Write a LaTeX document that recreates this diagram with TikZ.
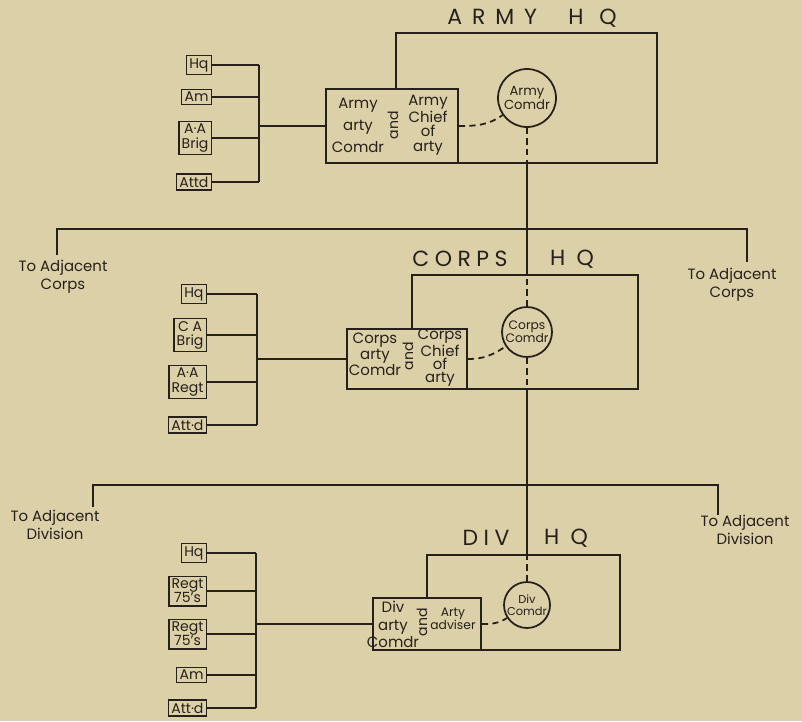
\documentclass[tikz,border=0pt]{standalone}
\usepackage{fontspec}
\setmainfont{Poppins}
\newfontfamily\titlefont[LetterSpace=25]{Poppins}
\newfontfamily\widetitlefont[LetterSpace=45]{Poppins}
\usetikzlibrary{positioning, calc}

\definecolor{paper}{RGB}{220,208,168}
\definecolor{ink}{RGB}{38,32,26}

\tikzset{
  hqtitle/.style={inner sep=0pt, font=\titlefont\fontsize{12.5}{14}\selectfont},
  hqbox/.style={draw=ink, line width=1pt},
  artbox/.style={draw=ink, fill=paper, line width=1pt},
  coltext/.style={align=center, inner sep=0pt, font=\fontsize{8.5}{#1}\selectfont},
  andtext/.style={rotate=90, inner sep=0pt, font=\fontsize{8}{8}\selectfont},
  cmdr/.style={circle, draw=ink, fill=paper, line width=1pt, inner sep=0pt, align=center},
  unitbox/.style={draw=ink, fill=paper, line width=0.8pt, inner sep=1.6pt, align=center, font=\fontsize{8}{8}\selectfont},
  adjtext/.style={align=center, inner sep=0pt, font=\fontsize{8.5}{10}\selectfont},
  bar/.style={line width=1.5pt},
  link/.style={dash pattern=on 3.5pt off 2.5pt}
}

\begin{document}
\begin{tikzpicture}[x=0.02cm, y=-0.02cm, ink, line width=1pt]
\fill[paper] (0,0) rectangle (802,721);

% Army HQ
\node[hqtitle, font=\widetitlefont\fontsize{12.5}{14}\selectfont] (armyt) at (532,18) {ARMY~~H Q};
\node[hqbox, minimum width=5.22cm, minimum height=2.6cm] (armybox) at (526.5,98) {};
\node[artbox, minimum width=2.64cm, minimum height=1.48cm] (armyart) at (392,126) {};
\node[coltext=12.5] at (358,125) {Army\\arty\\Comdr};
\node[andtext] at (393,125) {and};
\node[coltext=8.2] at (428,125) {Army\\Chief\\of\\arty};
\node[cmdr, minimum size=1.16cm, font=\fontsize{7.5}{8}\selectfont] (armycom) at (527,98) {Army\\Comdr};

\coordinate (abus) at (259,0);
\foreach \name/\y/\txt in {ahq/65/Hq, aam/97/Am, aaa/138/{A·A\\Brig}, aatt/182/Attd} {
   \node[unitbox, anchor=east] (\name) at (212,\y) {\txt};
   \draw (\name.east) -- (\name.east -| abus);
}
\draw (ahq.east -| abus) -- (aatt.east -| abus);
\draw (armyart.west -| abus) -- (armyart.west);

\draw[link] (armyart.east) to[out=0, in=215] (armycom.215);
\draw[link] (armycom.south) -- (armycom.south |- armybox.south);

% bar to adjacent corps
\coordinate (cbar) at (527,229);
\coordinate (cbarl) at (57,255);
\coordinate (cbarr) at (747,262);
\draw[bar] (cbarl) |- (cbar) -| (cbarr);
\node[adjtext] (adjcl) at (63,277) {To Adjacent\\Corps};
\node[adjtext] (adjcr) at (732,285) {To Adjacent\\Corps};

% Corps HQ
\node[hqtitle] (corpst) at (460,259) {CORPS};
\node[hqtitle] (corpsh) at (572,259) {H Q};
\node[hqbox, minimum width=4.52cm, minimum height=2.28cm] (corpsbox) at (525,332) {};
\node[artbox, minimum width=2.4cm, minimum height=1.2cm] (corpsart) at (407,359) {};
\node[coltext=9] at (375,354) {Corps\\arty\\Comdr};
\node[andtext] at (408,356) {and};
\node[coltext=7.4] at (440,357.5) {Corps\\Chief\\of\\arty};
\node[cmdr, minimum size=1cm, font=\fontsize{7}{7.5}\selectfont] (corpscom) at (527,332) {Corps\\Comdr};

\draw[bar] (armycom.south |- armybox.south) -- (armycom.south |- corpsbox.north);

\coordinate (cbus) at (257,0);
\foreach \name/\y/\txt in {chq/294/Hq, cca/335/{C A\\Brig}, caa/382/{A·A\\Regt}, catt/425/Att·d} {
   \node[unitbox, anchor=east] (\name) at (207,\y) {\txt};
   \draw (\name.east) -- (\name.east -| cbus);
}
\draw (chq.east -| cbus) -- (catt.east -| cbus);
\draw (corpsart.west -| cbus) -- (corpsart.west);

\draw[link] (corpsart.east) to[out=0, in=214] (corpscom.214);
\draw[link] (corpscom.north) -- (corpscom.north |- corpsbox.north);
\draw[link] (corpscom.south) -- (corpscom.south |- corpsbox.south);

% bar to adjacent division
\coordinate (dbar) at (527,485);
\coordinate (dbarl) at (93,507);
\coordinate (dbarr) at (718,515);
\draw[bar] (dbarl) |- (dbar) -| (dbarr);
\node[adjtext] (adjdl) at (55,525) {To Adjacent\\Division};
\node[adjtext] (adjdr) at (745,530) {To Adjacent\\Division};

% Div HQ
\node[hqtitle] (divt) at (486,538) {DIV};
\node[hqtitle] (divh) at (566,538) {H Q};
\node[hqbox, minimum width=3.86cm, minimum height=1.9cm] (divbox) at (523.5,602.5) {};
\node[artbox, minimum width=2.16cm, minimum height=1.04cm] (divart) at (427,624) {};
\node[coltext=10] at (393,624.5) {Div\\arty\\Comdr};
\node[andtext] at (422,622) {and};
\node[coltext=7.5, font=\fontsize{7}{7.5}\selectfont] at (453,619) {Arty\\adviser};
\node[cmdr, minimum size=0.92cm, font=\fontsize{6.5}{7}\selectfont] (divcom) at (527,605) {Div\\Comdr};

\draw[bar] (corpscom.south |- corpsbox.south) -- (corpscom.south |- divbox.north);

\coordinate (dbus) at (256,0);
\foreach \name/\y/\txt in {dhq/553/Hq, dr1/591/{Regt\\75's}, dr2/634/{Regt\\75's}, dam/675/Am, datt/708/Att·d} {
   \node[unitbox, anchor=east] (\name) at (207,\y) {\txt};
   \draw (\name.east) -- (\name.east -| dbus);
}
\draw (dhq.east -| dbus) -- (datt.east -| dbus);
\draw (divart.west -| dbus) -- (divart.west);

\draw[link] (divart.east) to[out=0, in=213] (divcom.213);
\draw[link] (divcom.north) -- (divcom.north |- divbox.north);
\end{tikzpicture}
\end{document}
